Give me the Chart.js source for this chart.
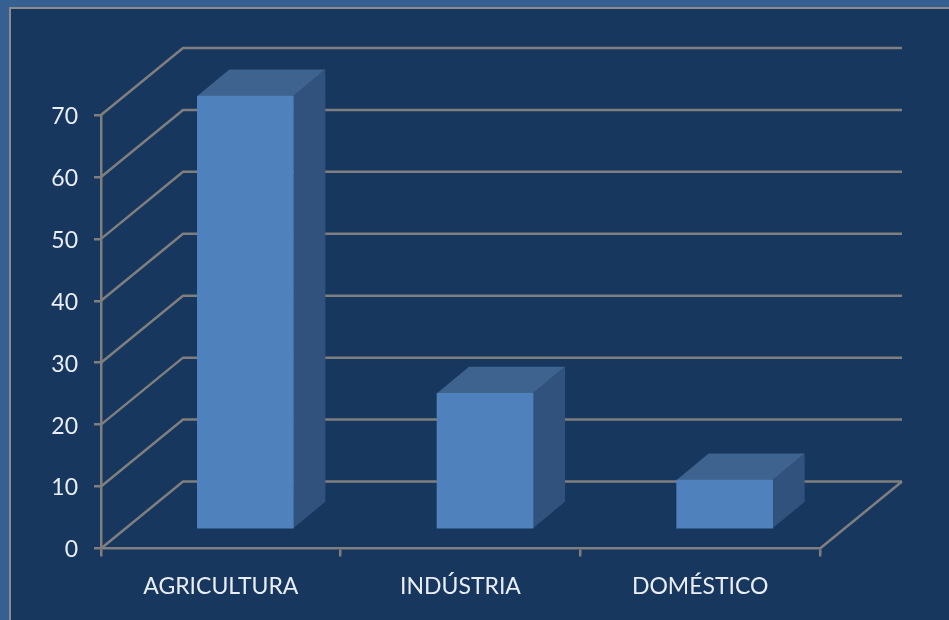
<!DOCTYPE html>
<html>
<head>
<meta charset="utf-8">
<title>Chart</title>
<script src="https://cdn.jsdelivr.net/npm/chart.js@4"></script>
<style>
    html, body { margin: 0; padding: 0; width: 949px; height: 620px; overflow: hidden; background: #366092; }
    #panel {
        position: absolute; left: 9px; top: 7px; width: 940px; height: 613px; box-sizing: border-box;
        background: #17375e; border-left: 2px solid #8c8c8c; border-top: 2px solid #8c8c8c;
    }
    #chart { position: absolute; left: 0; top: 0; }
</style>
</head>
<body>
<div id="panel"></div>
<canvas id="chart" width="949" height="620"></canvas>
<script>
const categories = ['AGRICULTURA', 'INDÚSTRIA', 'DOMÉSTICO'];
const values = [70, 22, 8];

const lineColor = '#7f7f7f';
const textColor = '#e9eef5';

// 3D depth of the box, in px
const wallDx = 82, wallDy = -67;
const barDx = 24.5, barDy = -19;
const depthDx = 32, depthDy = -26.5;

const fake3d = {
    id: 'fake3d',
    beforeDatasetsDraw(chart) {
        const ctx = chart.ctx, y = chart.scales.y, area = chart.chartArea;
        ctx.save();
        ctx.strokeStyle = lineColor;
        ctx.lineWidth = 2.5;
        // left wall diagonals and back wall lines
        y.ticks.forEach(function(t) {
            const py = y.getPixelForValue(t.value);
            ctx.beginPath();
            ctx.moveTo(area.left, py);
            ctx.lineTo(area.left + wallDx, py + wallDy);
            ctx.lineTo(area.right + wallDx, py + wallDy);
            ctx.stroke();
        });
        // right edge of the floor
        ctx.beginPath();
        ctx.moveTo(area.right, area.bottom);
        ctx.lineTo(area.right + wallDx, area.bottom + wallDy);
        ctx.stroke();
        ctx.restore();
    },
    beforeDatasetDraw(chart, args) {
        const ctx = chart.ctx;
        // side and top faces
        args.meta.data.forEach(function(bar) {
            const l = bar.x - bar.width / 2 + barDx;
            const r = bar.x + bar.width / 2 + barDx;
            const t = bar.y + barDy;
            const b = bar.base + barDy;
            ctx.fillStyle = '#31527c';
            ctx.beginPath();
            ctx.moveTo(r, t);
            ctx.lineTo(r + depthDx, t + depthDy);
            ctx.lineTo(r + depthDx, b + depthDy);
            ctx.lineTo(r, b);
            ctx.closePath();
            ctx.fill();
            ctx.fillStyle = '#3e638f';
            ctx.beginPath();
            ctx.moveTo(l, t);
            ctx.lineTo(l + depthDx, t + depthDy);
            ctx.lineTo(r + depthDx, t + depthDy);
            ctx.lineTo(r, t);
            ctx.closePath();
            ctx.fill();
        });
        ctx.save();
        ctx.translate(barDx, barDy);
    },
    afterDatasetDraw(chart) {
        chart.ctx.restore();
    }
};

new Chart(document.getElementById('chart').getContext('2d'), {
    type: 'bar',
    data: {
        labels: categories,
        datasets: [{
            data: values,
            backgroundColor: '#4f81bd',
            barThickness: 96,
            clip: false
        }]
    },
    plugins: [fake3d],
    options: {
        responsive: false,
        animation: false,
        layout: { padding: { left: 0, right: 129, top: 115, bottom: 0 } },
        plugins: { legend: { display: false }, tooltip: { enabled: false } },
        scales: {
            x: {
                afterFit(scale) { scale.height = 71.5; },
                grid: { drawOnChartArea: false, color: lineColor, lineWidth: 2.5, tickLength: 8 },
                border: { color: lineColor, width: 2.5 },
                ticks: { color: textColor, padding: 16, font: { family: 'Lato', size: 23 } }
            },
            y: {
                min: 0,
                max: 70,
                afterFit(scale) { scale.width = 101; },
                grid: { drawOnChartArea: false, color: lineColor, lineWidth: 2.5, tickLength: 7 },
                border: { color: lineColor, width: 2.5 },
                ticks: { stepSize: 10, color: textColor, padding: 16, labelOffset: 1.5, font: { family: 'Lato', size: 23 } }
            }
        }
    }
});
</script>
</body>
</html>
